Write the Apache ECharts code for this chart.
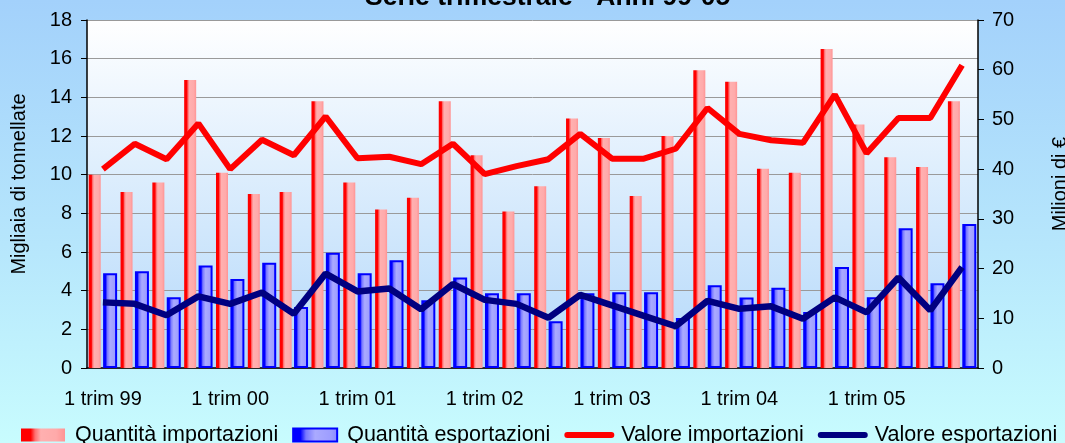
<!DOCTYPE html>
<html>
<head>
<meta charset="utf-8">
<script src="https://cdn.jsdelivr.net/npm/echarts@6/dist/echarts.min.js"></script>
<style>
  html, body { margin: 0; padding: 0; }
  #chart { width: 1065px; height: 443px; }
</style>
</head>
<body>
<div id="chart"></div>
<script>
// quarters 1999-2005
const categories = [
  '1 trim 99', '2 trim 99', '3 trim 99', '4 trim 99',
  '1 trim 00', '2 trim 00', '3 trim 00', '4 trim 00',
  '1 trim 01', '2 trim 01', '3 trim 01', '4 trim 01',
  '1 trim 02', '2 trim 02', '3 trim 02', '4 trim 02',
  '1 trim 03', '2 trim 03', '3 trim 03', '4 trim 03',
  '1 trim 04', '2 trim 04', '3 trim 04', '4 trim 04',
  '1 trim 05', '2 trim 05', '3 trim 05', '4 trim 05'
];

// migliaia di tonnellate
const quantitaImport = [10.0, 9.1, 9.6, 14.9, 10.1, 9.0, 9.1, 13.8, 9.6, 8.2, 8.8, 13.8, 11.0, 8.1,
  9.4, 12.9, 11.9, 8.9, 12.0, 15.4, 14.8, 10.3, 10.1, 16.5, 12.6, 10.9, 10.4, 13.8];
const quantitaExport = [4.9, 5.0, 3.66, 5.3, 4.6, 5.44, 3.16, 5.96, 4.9, 5.57, 3.5, 4.68, 3.87, 3.87,
  2.42, 3.87, 3.92, 3.92, 2.58, 4.28, 3.65, 4.15, 2.9, 5.23, 3.66, 7.23, 4.38, 7.45];

// milioni di euro
const valoreImport = [40.0, 45.1, 42.0, 49.2, 40.0, 45.9, 42.8, 50.6, 42.2, 42.5, 41.0, 45.1, 39.0, 40.6,
  42.0, 47.1, 42.1, 42.1, 44.1, 52.3, 47.1, 45.8, 45.3, 55.0, 43.2, 50.3, 50.3, 60.9];
const valoreExport = [13.2, 12.9, 10.6, 14.4, 12.9, 15.2, 10.9, 19.0, 15.4, 16.0, 11.8, 16.9, 13.7, 12.9,
  10.1, 14.7, 12.6, 10.5, 8.4, 13.5, 11.9, 12.4, 9.9, 14.2, 11.2, 18.2, 11.6, 20.3];

const FONT = "'Liberation Sans', Arial, sans-serif";

const grad = (stops, horizontal) => new echarts.graphic.LinearGradient(
  0, 0, horizontal ? 1 : 0, horizontal ? 0 : 1,
  stops.map(([offset, color]) => ({ offset, color }))
);

const chart = echarts.init(document.getElementById('chart'));

const option = {
  backgroundColor: grad([[0, '#a3d1fb'], [0.55, '#b6e6fc'], [1, '#c8fcfe']]),
  animation: false,
  textStyle: { fontFamily: FONT, color: '#000' },
  title: {
    text: 'Serie trimestrale - Anni 99-05',
    left: 365,
    top: -16,
    padding: 0,
    textStyle: { fontFamily: FONT, fontSize: 26.5, fontWeight: 'bold', color: '#000' }
  },
  legend: {
    left: 21,
    top: 424,
    padding: 0,
    itemWidth: 44,
    itemHeight: 13,
    itemGap: 14,
    lineStyle: { width: 6, cap: 'round' },
    textStyle: { fontFamily: FONT, fontSize: 21.5, color: '#000', padding: [0, 0, 0, 5] },
    data: [
      { name: 'Quantità importazioni', icon: 'rect' },
      { name: 'Quantità esportazioni', icon: 'rect' },
      { name: 'Valore importazioni', itemStyle: { opacity: 0 } },
      { name: 'Valore esportazioni', itemStyle: { opacity: 0 } }
    ]
  },
  grid: {
    left: 87,
    right: 87,
    top: 20,
    bottom: 75,
    outerBoundsMode: 'none',
    containLabel: false,
    show: true,
    borderWidth: 0,
    backgroundColor: grad([[0, '#ffffff'], [1, '#b3d8fa']])
  },
  xAxis: {
    type: 'category',
    data: categories,
    axisLine: { lineStyle: { color: '#000', width: 1.5 } },
    axisTick: { interval: 0, length: 6, lineStyle: { color: '#000' } },
    axisLabel: { interval: 3, fontSize: 20, color: '#000', margin: 21, fontFamily: FONT }
  },
  yAxis: [
    {
      type: 'value',
      min: 0,
      max: 18,
      interval: 2,
      name: 'Migliaia di tonnellate',
      nameLocation: 'middle',
      nameRotate: 90,
      nameGap: 58,
      nameTextStyle: { fontSize: 20, color: '#000', fontFamily: FONT, padding: [0, 0, 0, 20] },
      axisLine: { show: true, lineStyle: { color: '#000', width: 1.5 } },
      axisTick: { show: true, length: 6, lineStyle: { color: '#000' } },
      axisLabel: { fontSize: 20, color: '#000', margin: 15, fontFamily: FONT },
      splitLine: { lineStyle: { color: '#9a9a9a', width: 1 } }
    },
    {
      type: 'value',
      min: 0,
      max: 70,
      interval: 10,
      name: 'Milioni di €',
      nameLocation: 'middle',
      nameRotate: 90,
      nameGap: 72,
      nameTextStyle: { fontSize: 20, color: '#000', fontFamily: FONT, padding: [0, 0, 0, 20] },
      axisLine: { show: true, lineStyle: { color: '#000', width: 1.5 } },
      axisTick: { show: true, length: 6, lineStyle: { color: '#000' } },
      axisLabel: { fontSize: 20, color: '#000', margin: 14, fontFamily: FONT },
      splitLine: { show: false }
    }
  ],
  series: [
    {
      name: 'Quantità importazioni',
      type: 'bar',
      barWidth: 12,
      barGap: '20%',
      data: quantitaImport,
      itemStyle: {
        color: grad([[0, '#ff0000'], [0.22, '#ff0000'], [0.32, '#ff7070'], [0.45, '#ffb0b0'],
          [0.8, '#ffaaaa'], [1, '#ff9494']], true)
      }
    },
    {
      name: 'Quantità esportazioni',
      type: 'bar',
      barWidth: 14,
      data: quantitaExport,
      itemStyle: {
        color: grad([[0, '#0000ff'], [0.18, '#0000ff'], [0.3, '#7777ff'], [0.5, '#aaaaff'],
          [0.85, '#9d9dff'], [1, '#8888ff']], true),
        borderColor: '#0000ff',
        borderWidth: 2
      }
    },
    {
      name: 'Valore importazioni',
      type: 'line',
      yAxisIndex: 1,
      symbol: 'none',
      data: valoreImport,
      lineStyle: { color: '#ff0000', width: 6 },
      itemStyle: { color: '#ff0000' }
    },
    {
      name: 'Valore esportazioni',
      type: 'line',
      yAxisIndex: 1,
      symbol: 'none',
      data: valoreExport,
      lineStyle: { color: '#000080', width: 6.5 },
      itemStyle: { color: '#000080' }
    }
  ]
};

chart.setOption(option);

window.addEventListener('resize', () => chart.resize());
</script>
</body>
</html>
